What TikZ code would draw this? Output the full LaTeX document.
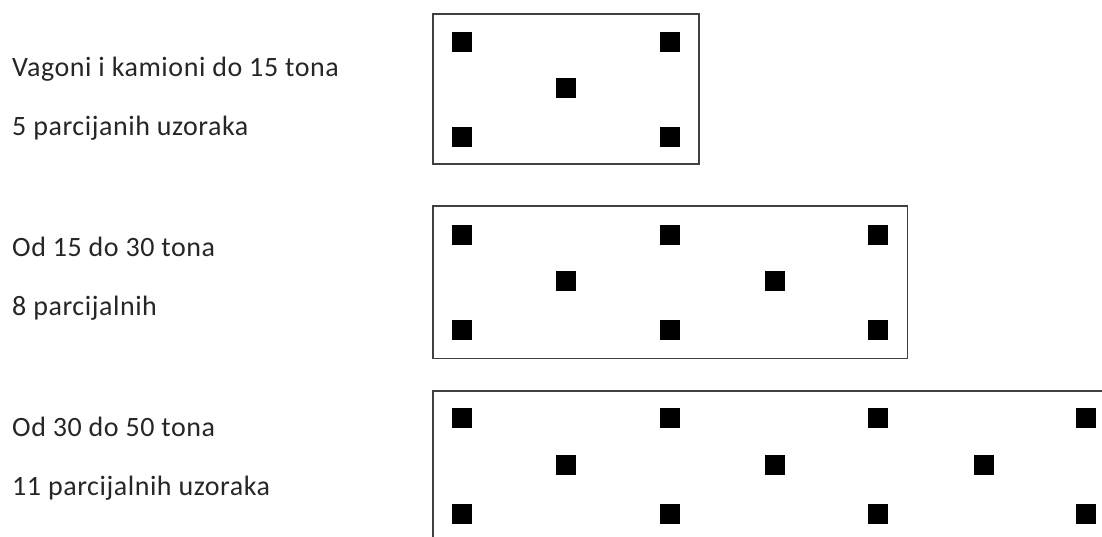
\documentclass[tikz,border=0pt]{standalone}
\usepackage{fontspec}
\setmainfont{Carlito}[LetterSpace=2]
\usepackage{tikz}

\tikzset{
  okvir/.style={line width=1.4pt, draw=black!75},
  blok/.style={fill=black, inner sep=0pt, minimum size=20pt, draw=none},
  opis/.style={anchor=base west, inner sep=0pt, font=\fontsize{28}{33}\selectfont, text=black!85}
}

\begin{document}
\begin{tikzpicture}[x=1pt, y=-1pt]

  %% ════ 画布 ════
  \useasboundingbox (0,0) rectangle (1102,536);
  \clip (0,0) rectangle (1102,536);

  %% ════ 标签 ════
  \node[opis] (t1a) at (12,76.7)  {Vagoni i kamioni do 15 tona};
  \node[opis] (t1b) at (12,135.7) {5 parcijanih uzoraka};
  \node[opis] (t2a) at (12,256.7) {Od 15 do 30 tona};
  \node[opis] (t2b) at (12,315.7) {8 parcijalnih};
  \node[opis] (t3a) at (12,436.7) {Od 30 do 50 tona};
  \node[opis] (t3b) at (12,495.7) {11 parcijalnih uzoraka};

  %% ════ okviri ════
  \draw[okvir] (433,14) rectangle (699,164);
  \draw[okvir] (433,206) rectangle (907.5,358.5);
  \draw[okvir] (433,391) rectangle (1130,570);   % izlazi van slike

  %% ════ 1. vagon: 5 uzoraka ════
  \node[blok] (a1) at (462,41.5) {};
  \node[blok] (a2) at (670,41.5) {};
  \node[blok] (a3) at (566,88)   {};
  \node[blok] (a4) at (462,136.5) {};
  \node[blok] (a5) at (670,136.5) {};

  %% ════ 2. vagon: 8 uzoraka ════
  \node[blok] (b1) at (462,235.3) {};
  \node[blok] (b2) at (670,235.3) {};
  \node[blok] (b3) at (878,235.3) {};
  \node[blok] (b4) at (566,281)   {};
  \node[blok] (b5) at (775,281)   {};
  \node[blok] (b6) at (462,330)   {};
  \node[blok] (b7) at (670,330)   {};
  \node[blok] (b8) at (878,330)   {};

  %% ════ 3. vagon: 11 uzoraka ════
  \node[blok] (c1)  at (462,418)    {};
  \node[blok] (c2)  at (670,418)    {};
  \node[blok] (c3)  at (878,418)    {};
  \node[blok] (c4)  at (1086,418)   {};
  \node[blok] (c5)  at (566,465)    {};
  \node[blok] (c6)  at (775,465)    {};
  \node[blok] (c7)  at (983.5,465)  {};
  \node[blok] (c8)  at (462,513.7)  {};
  \node[blok] (c9)  at (670,513.7)  {};
  \node[blok] (c10) at (878,513.7)  {};
  \node[blok] (c11) at (1086,513.7) {};

\end{tikzpicture}
\end{document}
